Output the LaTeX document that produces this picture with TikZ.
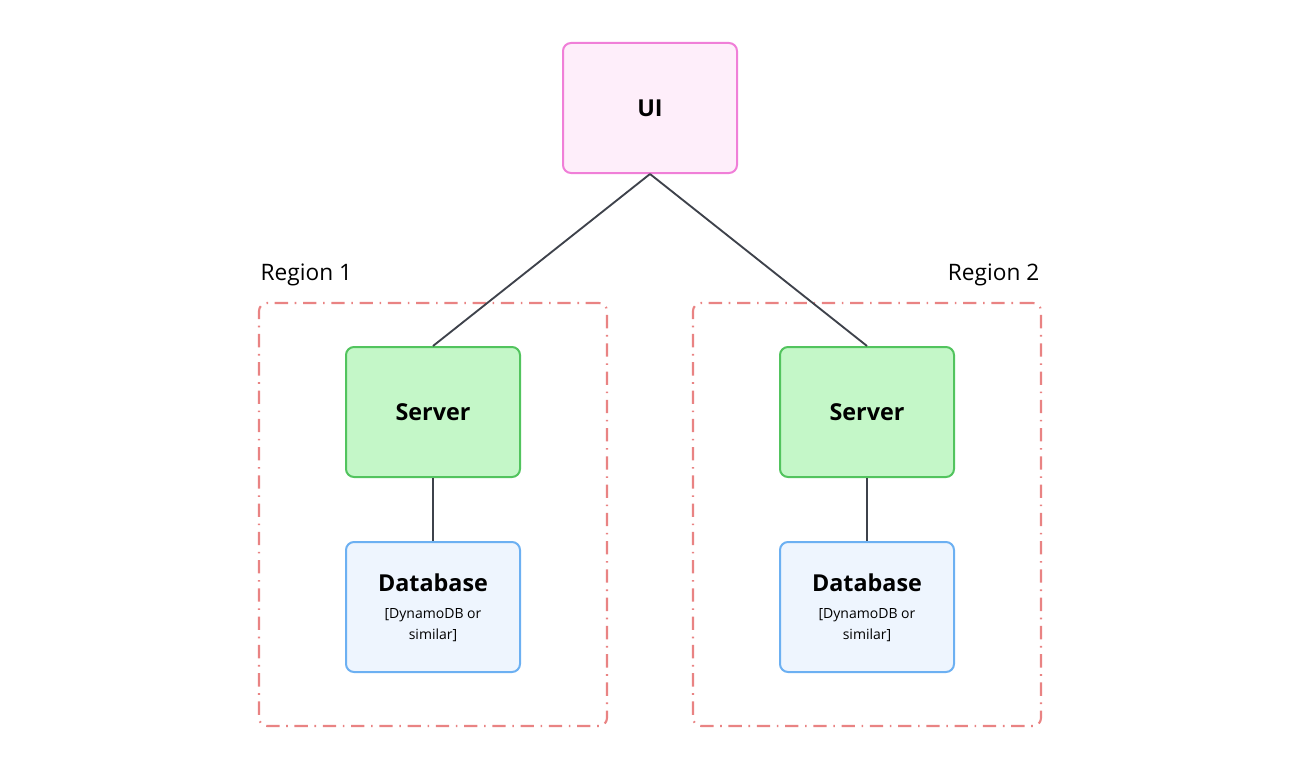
\documentclass[tikz,border=0pt]{standalone}
\usepackage{fontspec}
\setmainfont{Open Sans}
\definecolor{uiline}{HTML}{F07FD8}
\definecolor{uifill}{HTML}{FEEEFA}
\definecolor{srvline}{HTML}{52C45E}
\definecolor{srvfill}{HTML}{C4F7C8}
\definecolor{dbline}{HTML}{6CB0F2}
\definecolor{dbfill}{HTML}{EEF5FE}
\definecolor{regline}{HTML}{E98383}
\definecolor{wire}{HTML}{3E424B}
\newcommand{\dbsmall}{\fontsize{10.5}{13}\selectfont\mdseries}
\begin{document}
\begin{tikzpicture}[x=0.75pt,y=-0.75pt,
  box/.style={draw,line width=1.5pt,rounded corners=6pt,minimum width=130.5pt,minimum height=97.5pt,text depth=0pt,align=center,font=\fontsize{17.5}{20}\selectfont\bfseries},
  region/.style={draw=regline,line width=1.6pt,rounded corners=6pt,dash pattern=on 10pt off 5pt on 1.2pt off 5pt,minimum width=261pt,minimum height=317.25pt},
  reglabel/.style={font=\fontsize{17}{20}\selectfont},
  wire/.style={draw=wire,line width=1.4pt}]
\useasboundingbox (0,0) rectangle (1300,774);

\node[region] (reg1) at (433,514.5) {};
\node[region] (reg2) at (867,514.5) {};
\node[reglabel,anchor=base west] (lab1) at (256,280) {Region 1};
\node[reglabel,anchor=base east] (lab2) at (1044,280) {Region 2};

\node[box,draw=uiline,fill=uifill] (ui) at (650,108) {UI};
\node[box,draw=srvline,fill=srvfill] (srv1) at (433,412) {Server};
\node[box,draw=srvline,fill=srvfill] (srv2) at (867,412) {Server};
\node[box,draw=dbline,fill=dbfill] (db1) at (433,607) {Database\\\dbsmall {[}DynamoDB or\\[-4pt]\dbsmall similar]};
\node[box,draw=dbline,fill=dbfill] (db2) at (867,607) {Database\\\dbsmall {[}DynamoDB or\\[-4pt]\dbsmall similar]};

\draw[wire] (ui.south) -- (srv1.north);
\draw[wire] (ui.south) -- (srv2.north);
\draw[wire] (srv1.south) -- (db1.north);
\draw[wire] (srv2.south) -- (db2.north);
\end{tikzpicture}
\end{document}
